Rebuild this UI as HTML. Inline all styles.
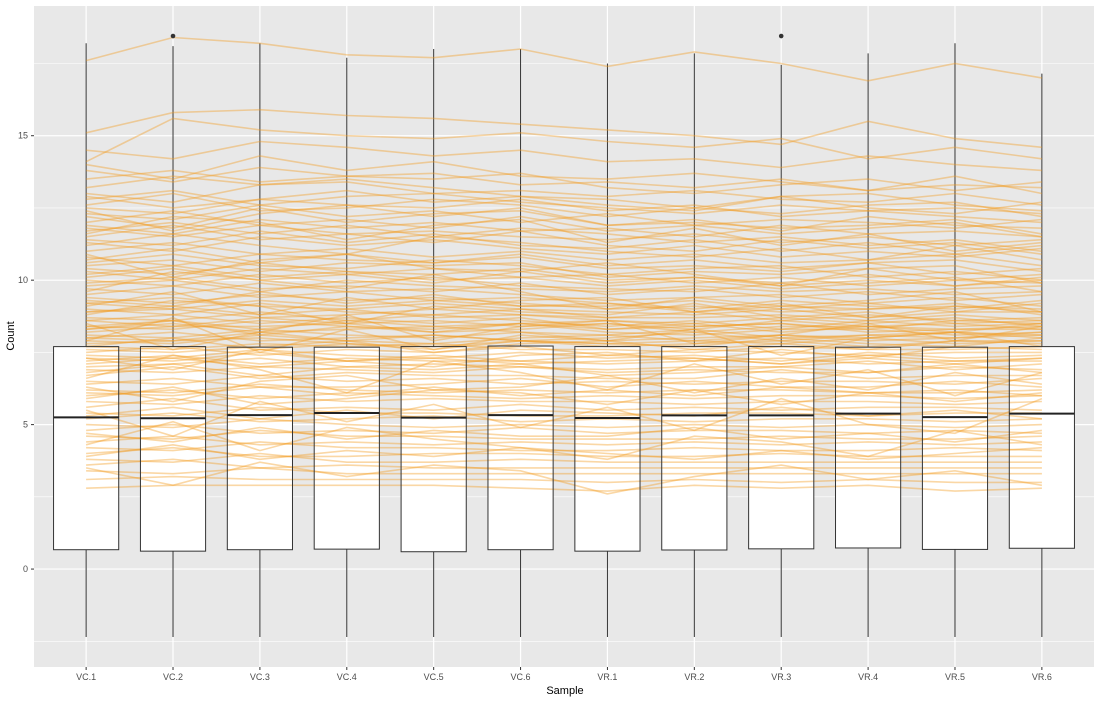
<!DOCTYPE html>
<html><head><meta charset="utf-8"><style>
body{margin:0;background:#fff;}
svg text{font-family:"Liberation Sans",sans-serif;}
</style></head><body>
<svg id="chart" width="1100" height="700" xmlns="http://www.w3.org/2000/svg">
<rect x="34" y="6" width="1060" height="661" fill="#e8e8e8"/>
<g id="grid"></g><g id="boxes"></g><g id="lines"></g><g id="outlines"></g><g id="axes"></g>
<text x="565" y="694" font-size="11" text-anchor="middle" fill="#000">Sample</text>
<text x="14" y="336" font-size="11" text-anchor="middle" fill="#000" transform="rotate(-90 14 336)">Count</text>
</svg>
<script>
const categories=["VC.1","VC.2","VC.3","VC.4","VC.5","VC.6","VR.1","VR.2","VR.3","VR.4","VR.5","VR.6"];
const medians=[5.25,5.22,5.33,5.4,5.24,5.33,5.23,5.32,5.32,5.38,5.26,5.38];
const q1=[0.67,0.62,0.67,0.69,0.6,0.67,0.62,0.66,0.7,0.73,0.68,0.72];
const q3=[7.7,7.7,7.68,7.68,7.7,7.72,7.7,7.7,7.7,7.68,7.68,7.7];
const whiskLow=[-2.35,-2.35,-2.35,-2.35,-2.35,-2.35,-2.35,-2.35,-2.35,-2.35,-2.35,-2.35];
const whiskHigh=[18.2,18.1,18.2,17.7,18.0,18.0,17.5,17.85,17.45,17.85,18.2,17.15];
const outlierCat=[1,8];
const outlierVal=[18.45,18.45];
const yTicks=[0,5,10,15];
const yMinor=[-2.5,2.5,7.5,12.5,17.5];
const lines=[
[17.6,18.4,18.2,17.8,17.7,18.0,17.4,17.9,17.5,16.9,17.5,17.0],
[15.1,15.8,15.9,15.7,15.6,15.4,15.2,15.0,14.7,15.5,14.9,14.6],
[14.5,14.2,14.8,14.6,14.3,14.5,14.1,14.2,13.9,14.3,14.0,13.8],
[14.1,15.6,15.2,15.0,14.9,15.1,14.8,14.6,14.9,14.2,14.6,14.2],
[13.8,13.4,13.9,13.6,13.5,13.7,13.2,13.0,13.3,13.5,13.1,13.4],
[13.2,13.6,13.3,13.4,13.0,13.1,12.9,13.1,12.8,12.7,13.0,12.6],
[12.9,12.5,12.8,13.1,12.7,12.9,12.6,12.4,12.9,12.5,12.3,12.7],
[12.6,13.0,12.4,12.5,12.8,12.6,12.2,12.5,12.3,12.6,12.7,12.2],
[12.3,12.1,12.6,12.2,12.4,12.0,12.3,11.9,12.1,12.0,11.8,12.1],
[12.0,12.4,11.9,12.1,11.8,12.2,11.7,11.9,11.6,11.8,12.0,11.5],
[11.8,11.5,11.9,11.6,11.7,11.5,11.4,11.6,11.3,11.5,11.2,11.4],
[11.5,11.9,11.4,11.6,11.3,11.7,11.2,11.0,11.4,11.1,11.3,10.9],
[11.3,11.0,11.5,11.2,11.4,11.1,10.9,11.2,10.8,11.0,10.8,11.1],
[11.0,11.3,10.9,11.1,10.8,11.0,10.7,10.9,10.6,10.7,10.9,10.5],
[10.8,10.5,10.9,10.7,10.6,10.8,10.4,10.5,10.3,10.6,10.2,10.4],
[10.6,10.9,10.5,10.4,10.7,10.5,10.2,10.4,10.5,10.1,10.3,10.0],
[10.4,10.2,10.6,10.3,10.2,10.4,10.0,10.1,9.9,10.2,9.8,10.1],
[10.2,10.5,10.1,10.3,10.0,10.1,9.8,10.0,9.7,9.9,10.1,9.6],
[10.0,9.8,10.2,9.9,10.1,9.8,9.7,9.6,9.9,9.5,9.7,9.8],
[9.9,10.1,9.7,9.8,9.6,9.9,9.5,9.7,9.4,9.6,9.3,9.5],
[9.7,9.5,9.9,9.6,9.7,9.5,9.3,9.4,9.5,9.2,9.4,9.1],
[9.5,9.8,9.4,9.6,9.3,9.4,9.2,9.0,9.3,9.1,9.0,9.3],
[9.4,9.2,9.5,9.3,9.4,9.2,9.0,9.1,8.9,9.0,9.2,8.8],
[9.2,9.4,9.1,9.0,9.2,9.0,8.9,8.8,9.0,8.7,8.9,8.9],
[9.0,8.8,9.2,8.9,8.8,9.0,8.7,8.9,8.6,8.8,8.6,8.7],
[8.9,9.1,8.8,9.0,8.7,8.8,8.6,8.5,8.7,8.5,8.7,8.4],
[8.7,8.6,8.9,8.6,8.8,8.6,8.4,8.6,8.3,8.6,8.4,8.5],
[8.6,8.8,8.5,8.7,8.5,8.7,8.3,8.4,8.5,8.2,8.3,8.3],
[8.4,8.3,8.6,8.4,8.3,8.5,8.2,8.1,8.3,8.3,8.1,8.2],
[8.3,8.5,8.2,8.3,8.4,8.2,8.1,8.3,8.0,8.1,8.2,8.0],
[8.1,8.0,8.3,8.1,8.0,8.2,7.9,8.0,8.1,7.9,8.0,8.1],
[8.0,8.2,7.9,8.0,8.1,7.9,7.8,7.9,7.8,8.0,7.8,7.9],
[7.8,7.9,8.0,7.8,7.7,7.9,7.7,7.8,7.9,7.7,7.9,7.8],
[7.7,7.6,7.8,7.7,7.8,7.6,7.6,7.5,7.7,7.6,7.6,7.7],
[7.5,7.7,7.4,7.6,7.5,7.7,7.4,7.6,7.5,7.4,7.5,7.5],
[7.4,7.3,7.6,7.4,7.3,7.5,7.3,7.4,7.2,7.5,7.3,7.4],
[7.2,7.4,7.1,7.3,7.2,7.2,7.1,7.2,7.3,7.1,7.2,7.2],
[7.0,7.1,7.3,7.0,7.1,7.0,6.9,7.0,7.0,7.2,6.9,7.1],
[6.9,6.8,7.0,6.9,6.8,7.0,6.8,6.9,6.8,6.8,7.0,6.9],
[6.7,7.0,6.6,6.8,6.7,6.7,6.6,6.6,6.9,6.6,6.7,6.7],
[6.5,6.4,6.7,6.5,6.6,6.4,6.5,6.4,6.5,6.5,6.4,6.6],
[6.4,6.6,6.3,6.3,6.4,6.6,6.3,6.5,6.3,6.3,6.5,6.3],
[6.2,6.1,6.4,6.2,6.1,6.2,6.1,6.2,6.2,6.1,6.1,6.2],
[6.0,6.2,5.9,6.1,6.0,5.9,6.0,5.9,6.0,6.0,5.9,6.0],
[5.8,5.7,6.0,5.8,5.9,5.8,5.8,5.7,5.8,5.8,5.7,5.8],
[5.6,5.9,5.5,5.6,5.5,5.7,5.5,5.6,5.5,5.6,5.6,5.5],
[5.4,5.3,5.6,5.4,5.4,5.3,5.3,5.4,5.4,5.3,5.4,5.4],
[5.2,5.4,5.1,5.2,5.3,5.1,5.2,5.1,5.2,5.2,5.1,5.2],
[5.0,4.9,5.2,5.0,4.9,5.0,4.9,5.0,4.9,5.0,4.9,5.0],
[4.8,5.0,4.7,4.8,4.7,4.9,4.7,4.8,4.8,4.7,4.8,4.7],
[4.6,4.5,4.8,4.6,4.6,4.5,4.5,4.5,4.6,4.5,4.5,4.6],
[4.4,4.6,4.3,4.4,4.3,4.4,4.3,4.4,4.3,4.4,4.3,4.4],
[4.2,4.1,4.4,4.2,4.2,4.1,4.1,4.2,4.1,4.1,4.2,4.1],
[4.0,4.2,3.9,3.9,4.0,4.0,3.9,3.9,4.0,3.9,3.9,3.9],
[3.8,3.7,4.0,3.7,3.7,3.8,3.7,3.7,3.7,3.7,3.7,3.7],
[3.6,3.8,3.5,3.6,3.5,3.5,3.5,3.5,3.5,3.5,3.5,3.5],
[3.4,3.3,3.5,3.3,3.3,3.3,3.3,3.3,3.3,3.3,3.3,3.3],
[3.1,3.2,3.1,3.1,3.1,3.1,3.0,3.1,3.0,3.1,3.0,3.0],
[2.8,2.9,2.9,2.9,2.9,2.8,2.7,2.9,2.8,2.9,2.7,2.8],
[9.6,10.3,10.0,9.7,10.2,9.6,9.0,9.4,9.1,9.3,9.6,8.9],
[8.5,7.6,8.2,8.8,7.9,8.4,8.6,7.8,8.1,8.5,7.9,8.4],
[6.6,7.4,6.9,6.1,7.2,6.8,6.2,7.1,6.4,6.9,6.0,6.8],
[11.6,12.2,12.0,11.4,11.9,12.1,11.3,11.8,11.2,11.6,11.0,11.3],
[13.0,12.7,13.3,13.5,13.2,12.9,12.8,12.5,12.9,13.0,12.6,12.4],
[7.9,8.7,7.5,8.3,7.6,8.1,7.9,8.3,7.4,8.0,8.2,7.7],
[5.5,4.6,5.8,5.1,5.7,4.9,5.6,4.8,5.9,5.0,4.7,5.9],
[10.9,10.1,10.7,10.9,10.4,10.3,10.6,10.2,9.8,10.4,10.0,10.2],
[4.3,5.1,4.1,4.9,4.5,4.2,3.8,4.6,4.4,3.9,4.8,4.3],
[12.4,11.7,12.3,12.6,12.2,12.5,11.9,12.1,11.7,12.2,11.9,11.8],
[9.1,9.6,8.8,9.4,9.0,9.3,9.4,8.9,9.2,8.7,9.1,9.0],
[7.3,6.9,7.6,7.2,7.0,7.4,7.5,7.2,7.6,7.3,7.7,7.6],
[14.0,13.5,14.3,13.8,14.1,13.6,13.5,13.7,13.4,13.1,13.6,13.0],
[6.3,5.8,6.5,6.7,6.2,6.3,6.7,6.1,6.6,6.2,6.8,6.4],
[8.8,9.3,9.1,8.5,9.1,8.9,8.8,9.2,8.7,8.9,8.5,8.6],
[10.5,10.7,10.3,10.6,10.5,10.6,10.1,10.3,10.2,10.4,10.5,9.9],
[3.5,2.9,3.7,3.2,3.6,3.4,2.6,3.2,3.6,3.1,3.4,2.9],
[11.2,11.6,11.2,10.9,11.5,11.3,11.0,10.8,11.1,10.7,11.2,10.7],
[8.2,8.4,8.4,8.5,8.2,8.3,8.5,8.2,8.4,8.4,8.3,8.4],
[7.6,7.5,7.7,7.9,7.5,7.8,7.9,7.6,7.8,7.6,7.9,7.9],
[5.9,6.3,5.7,5.9,6.2,6.1,5.7,6.2,5.7,6.1,5.8,6.1],
[12.8,13.1,12.6,12.9,13.0,12.7,12.5,12.3,12.6,12.4,12.2,12.0],
[12.2,11.8,12.5,12.0,12.3,12.4,11.9,12.0,11.8,11.9,12.1,11.6],
[11.7,12.0,11.6,11.9,11.5,11.8,11.6,11.3,11.5,11.2,11.4,11.0],
[11.4,11.2,11.7,11.3,11.6,11.2,11.1,11.4,11.0,11.3,10.9,11.2],
[10.7,11.1,10.6,10.9,10.6,10.9,10.5,10.7,10.4,10.6,10.7,10.3],
[10.3,10.0,10.4,10.2,10.4,10.1,10.2,9.9,10.1,9.8,10.0,9.9],
[9.8,10.0,9.6,10.0,9.8,9.7,9.6,9.8,9.6,9.7,9.5,9.6],
[9.3,9.1,9.6,9.2,9.5,9.1,9.1,9.3,9.0,9.2,8.9,9.2],
[8.9,9.0,8.7,8.8,9.0,8.8,8.7,8.7,8.8,8.6,8.8,8.6],
[8.6,8.4,8.7,8.5,8.6,8.4,8.5,8.3,8.6,8.4,8.5,8.3],
[8.3,8.6,8.1,8.4,8.2,8.5,8.3,8.5,8.2,8.4,8.2,8.5],
[8.0,7.9,8.2,7.9,8.1,7.9,8.0,8.2,7.9,8.1,8.0,8.2],
[7.7,8.0,7.6,7.8,7.6,7.9,7.8,7.7,8.0,7.8,7.7,8.0],
[7.3,7.2,7.5,7.2,7.4,7.2,7.4,7.3,7.1,7.4,7.2,7.3],
[6.8,7.1,6.7,7.0,6.9,7.1,6.7,6.8,7.0,6.8,7.1,6.8],
[13.5,13.8,13.4,13.6,13.7,13.3,13.4,13.2,13.5,13.1,13.3,13.2],
[12.5,12.3,12.8,12.6,12.5,12.8,12.4,12.6,12.2,12.4,12.5,12.3],
[11.9,11.6,12.1,11.8,12.0,11.7,11.8,11.5,11.9,11.6,11.7,11.5],
[10.1,10.4,10.0,10.2,9.9,10.3,9.9,10.1,9.8,10.0,9.8,10.0],
[9.2,9.0,9.3,9.1,9.3,9.1,9.2,8.9,9.1,9.0,9.1,8.9],
[8.4,8.6,8.3,8.6,8.4,8.5,8.6,8.4,8.5,8.3,8.6,8.5],
[7.9,7.8,8.1,7.9,7.8,8.0,8.1,7.9,8.1,8.0,8.2,8.1],
[7.1,7.3,7.0,7.2,7.3,7.1,7.2,7.3,7.1,7.3,7.1,7.3],
[6.1,6.0,6.3,6.0,6.3,6.0,6.2,6.0,6.3,6.1,6.2,6.0],
[5.3,5.6,5.2,5.5,5.2,5.5,5.4,5.3,5.6,5.3,5.5,5.2],
[4.7,4.4,4.9,4.5,4.8,4.6,4.6,4.9,4.5,4.7,4.4,4.8],
[3.9,4.3,3.8,4.1,3.9,4.2,4.0,3.8,4.1,3.8,4.0,4.2]
];
const NS="http://www.w3.org/2000/svg";
const PL=34,PR=1094,PT=6,PB=667;
const yMin=-3.39,yMax=19.49;
const band=(PR-PL)/(categories.length+0.2);
function xScale(i){return PL+band*(0.6+i);}
function yScale(v){return PB-(v-yMin)/(yMax-yMin)*(PB-PT);}
function mk(tag,attrs,parent){const e=document.createElementNS(NS,tag);for(const k in attrs)e.setAttribute(k,attrs[k]);parent.appendChild(e);return e;}
const grid=document.getElementById('grid'),boxes=document.getElementById('boxes'),lg=document.getElementById('lines'),ol=document.getElementById('outlines'),ax=document.getElementById('axes');
yMinor.forEach(v=>{const l=mk('line',{x1:PL,x2:PR,y1:yScale(v),y2:yScale(v),stroke:'#fff','stroke-width':0.6},grid);

});
yTicks.forEach(v=>{const y=yScale(v);const l=mk('line',{x1:PL,x2:PR,y1:y,y2:y,stroke:'#fff','stroke-width':1.2},grid);


const t=mk('line',{x1:PL-3,x2:PL,y1:y,y2:y,stroke:'#333','stroke-width':1},ax);


const tx=mk('text',{x:PL-6,y:y+3,'font-size':9,'text-anchor':'end',fill:'#4d4d4d'},ax);
tx.textContent=v;

});
categories.forEach((c,i)=>{const x=xScale(i);const l=mk('line',{x1:x,x2:x,y1:PT,y2:PB,stroke:'#fff','stroke-width':1.2},grid);


const t=mk('line',{x1:x,x2:x,y1:PB,y2:PB+3,stroke:'#333','stroke-width':1},ax);


const tx=mk('text',{x:x,y:PB+13,'font-size':9,'text-anchor':'middle',fill:'#4d4d4d'},ax);
tx.textContent=c;


const hw=band*0.375;
const wl=mk('line',{x1:x,x2:x,y1:yScale(whiskHigh[i]),y2:yScale(whiskLow[i]),stroke:'#333','stroke-width':1},boxes);


const b=mk('rect',{x:x-hw,y:yScale(q3[i]),width:2*hw,height:yScale(q1[i])-yScale(q3[i]),fill:'#fff'},boxes);


const bo=mk('rect',{x:x-hw,y:yScale(q3[i]),width:2*hw,height:yScale(q1[i])-yScale(q3[i]),fill:'none',stroke:'#333','stroke-width':1},ol);


const m=mk('line',{x1:x-hw,x2:x+hw,y1:yScale(medians[i]),y2:yScale(medians[i]),stroke:'#222','stroke-width':2},ol);

});
lines.forEach(vals=>{const p=vals.map((v,i)=>(i?'L':'M')+xScale(i).toFixed(1)+','+yScale(v).toFixed(1)).join('');
const l=mk('path',{d:p,fill:'none',stroke:'#f29a1f','stroke-opacity':0.4,'stroke-width':1.6},lg);

});
outlierCat.forEach((c,k)=>{const o=mk('circle',{cx:xScale(c),cy:yScale(outlierVal[k]),r:2.3,fill:'#333'},ol);

});
</script>
</body></html>
